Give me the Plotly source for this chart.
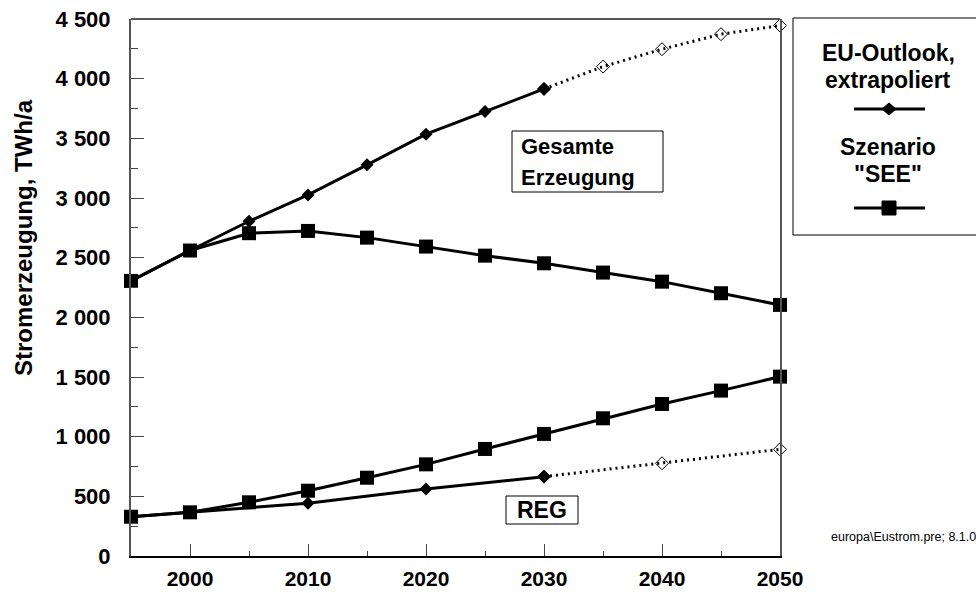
import plotly.graph_objects as go

# ---------------- data ----------------
years = [1995, 2000, 2005, 2010, 2015, 2020, 2025, 2030, 2035, 2040, 2045, 2050]

eu_total_years = [1995, 2000, 2005, 2010, 2015, 2020, 2025, 2030]
eu_total = [2305, 2560, 2805, 3026, 3278, 3535, 3724, 3914]
eu_total_ext_years = [2030, 2035, 2040, 2045, 2050]
eu_total_ext = [3914, 4101, 4247, 4373, 4445]

see_total = [2305, 2560, 2705, 2724, 2668, 2593, 2517, 2453, 2375, 2299, 2202, 2104]
see_reg = [329, 366, 450, 547, 656, 768, 897, 1023, 1154, 1274, 1386, 1503]

eu_reg_years = [1995, 2000, 2010, 2020, 2030]
eu_reg = [329, 366, 442, 562, 665]
eu_reg_ext_years = [2030, 2040, 2050]
eu_reg_ext = [665, 777, 894]

x_tick_vals = [2000, 2010, 2020, 2030, 2040, 2050]
x_tick_labels = ["2000", "2010", "2020", "2030", "2040", "2050"]
y_tick_vals = [0, 500, 1000, 1500, 2000, 2500, 3000, 3500, 4000, 4500]
y_tick_labels = ["0", "500", "1 000", "1 500", "2 000", "2 500", "3 000", "3 500", "4 000", "4 500"]

# ---------------- layout geometry ----------------
W, H = 976, 593
L, R, T, B = 131, 780, 19, 556


def px(x):
    return (x - L) / (R - L)


def py(y):
    return (B - y) / (B - T)


FONT = "Liberation Sans"
fig = go.Figure()

line_solid = dict(color="black", width=3)
line_dot = dict(color="black", width=3, dash="2px,4px")

# EU outlook total (extrapolated part first, drawn below)
fig.add_trace(go.Scatter(
    x=eu_total_ext_years, y=eu_total_ext, mode="lines+markers",
    line=line_dot,
    marker=dict(symbol=["diamond"] + ["diamond-open"] * 4, size=10,
                color="black", line=dict(color="black", width=1)),
    cliponaxis=False, showlegend=False))
fig.add_trace(go.Scatter(
    x=eu_total_years, y=eu_total, mode="lines+markers", line=line_solid,
    marker=dict(symbol="diamond", size=10, color="black"),
    cliponaxis=False, showlegend=False))

# EU outlook REG
fig.add_trace(go.Scatter(
    x=eu_reg_ext_years, y=eu_reg_ext, mode="lines+markers",
    line=line_dot,
    marker=dict(symbol=["diamond"] + ["diamond-open"] * 2, size=10,
                color="black", line=dict(color="black", width=1)),
    cliponaxis=False, showlegend=False))
fig.add_trace(go.Scatter(
    x=eu_reg_years, y=eu_reg, mode="lines+markers", line=line_solid,
    marker=dict(symbol="diamond", size=10, color="black"),
    cliponaxis=False, showlegend=False))

# Scenario SEE
fig.add_trace(go.Scatter(
    x=years, y=see_total, mode="lines+markers", line=line_solid,
    marker=dict(symbol="square", size=14, color="black"),
    cliponaxis=False, showlegend=False))
fig.add_trace(go.Scatter(
    x=years, y=see_reg, mode="lines+markers", line=line_solid,
    marker=dict(symbol="square", size=14, color="black"),
    cliponaxis=False, showlegend=False))

fig.update_layout(
    width=W, height=H,
    margin=dict(l=L, r=W - R, t=T, b=H - B),
    paper_bgcolor="white", plot_bgcolor="white",
    showlegend=False,
    xaxis=dict(
        range=[1995, 2050], tickvals=x_tick_vals, ticktext=x_tick_labels,
        ticks="inside", ticklen=12, tickwidth=1, tickcolor="#444",
        minor=dict(dtick=5, tick0=1995, ticks="inside", ticklen=5, tickwidth=1, tickcolor="#444"),
        showline=True, linecolor="black", linewidth=2,
        showgrid=False, zeroline=False, automargin=False,
        tickfont=dict(family=FONT, size=21, color="black", weight="bold"),
        ticklabelstandoff=3,
    ),
    yaxis=dict(
        range=[0, 4500], tickvals=y_tick_vals, ticktext=y_tick_labels,
        ticks="inside", ticklen=13, tickwidth=1, tickcolor="#444",
        minor=dict(dtick=250, tick0=0, ticks="inside", ticklen=7, tickwidth=1, tickcolor="#444"),
        showline=True, linecolor="#555", linewidth=2, mirror=True,
        showgrid=False, zeroline=False, automargin=False,
        tickfont=dict(family=FONT, size=22, color="black", weight="bold"),
        ticklabelstandoff=14,
    ),
)

shapes = []
# top frame line
shapes.append(dict(type="line", xref="paper", yref="paper", x0=0, x1=1, y0=1, y1=1,
                   line=dict(color="#555", width=2)))
# label boxes
shapes.append(dict(type="rect", xref="paper", yref="paper",
                   x0=px(512), x1=px(663), y0=py(192), y1=py(131),
                   line=dict(color="black", width=1)))
shapes.append(dict(type="rect", xref="paper", yref="paper",
                   x0=px(506), x1=px(578), y0=py(524), y1=py(496),
                   line=dict(color="black", width=1)))
# legend box
shapes.append(dict(type="rect", xref="paper", yref="paper",
                   x0=px(793), x1=px(990), y0=py(235), y1=py(18),
                   line=dict(color="black", width=1)))
# legend samples
for yy in (109, 208):
    shapes.append(dict(type="line", xref="paper", yref="paper",
                       x0=px(854), x1=px(925), y0=py(yy), y1=py(yy),
                       line=dict(color="black", width=3)))
cx, cy = 889, 109
shapes.append(dict(type="path", xref="paper", yref="paper",
                   path=f"M {px(cx-7)},{py(cy)} L {px(cx)},{py(cy-6)} L {px(cx+7)},{py(cy)} L {px(cx)},{py(cy+6)} Z",
                   fillcolor="black", line=dict(color="black", width=1)))
cx, cy = 889, 208
shapes.append(dict(type="rect", xref="paper", yref="paper",
                   x0=px(cx-7), x1=px(cx+7), y0=py(cy+7), y1=py(cy-7),
                   fillcolor="black", line=dict(color="black", width=1)))
fig.update_layout(shapes=shapes)


def ann(text, x, y, size, xanchor="center", family=FONT, weight="bold", angle=0):
    fig.add_annotation(text=text, x=px(x), y=py(y), xref="paper", yref="paper",
                       xanchor=xanchor, yanchor="middle", showarrow=False,
                       textangle=angle,
                       font=dict(family=family, size=size, color="black", weight=weight))


ann("Stromerzeugung, TWh/a", 24, 238, 24, angle=-90)
ann("Gesamte", 519, 146, 22, xanchor="left")
ann("Erzeugung", 519, 178, 22, xanchor="left")
ann("REG", 542, 510, 23)
ann("EU-Outlook,", 888, 53, 23)
ann("extrapoliert", 888, 80, 23)
ann("Szenario", 888, 147, 23)
ann("\"SEE\"", 888, 174, 23)
ann("europa\\Eustrom.pre; 8.1.0", 829, 537, 12.5, xanchor="left", weight="normal")

fig.write_html("out.html", config={"displayModeBar": False},
               post_script="document.body.style.margin='0';")
